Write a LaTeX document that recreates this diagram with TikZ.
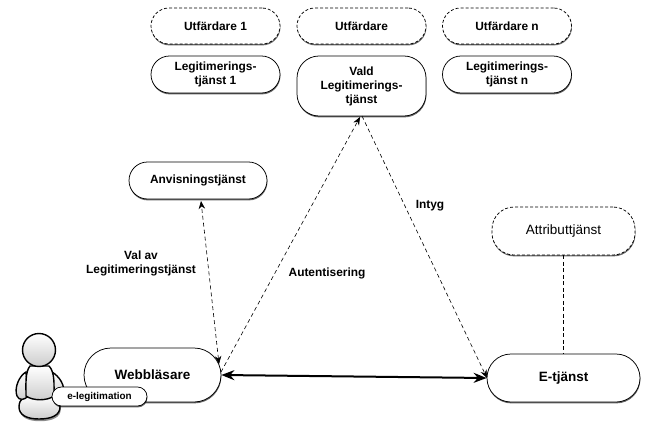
\documentclass[tikz,border=0pt]{standalone}
\usepackage{fontspec}
\setmainfont{Liberation Sans}
\usetikzlibrary{shadows,arrows.meta,calc}
\tikzset{
  x=1pt,y=-1pt,
  pill/.style={draw=black,line width=0.75pt,fill=white,rounded corners=#1,
    align=center,inner sep=0pt,font=\bfseries\fontsize{11.9}{14}\selectfont,
    drop shadow={shadow xshift=0.4pt,shadow yshift=-1.4pt,opacity=.6,fill=black}},
  pill/.default=18.5pt,
  dashpill/.style={pill=#1,dash pattern=on 3pt off 2pt},
  dashpill/.default=18pt,
  conn/.style={dash pattern=on 4pt off 3pt,line width=0.6pt,-{Stealth[length=8pt,width=6.5pt]}},
  bothconn/.style={dash pattern=on 4pt off 3pt,line width=0.6pt,{Stealth[length=8pt,width=6.5pt]}-{Stealth[length=8pt,width=6.5pt]}},
  plainconn/.style={dash pattern=on 4pt off 2.5pt,line width=0.8pt},
  thick arrow/.style={line width=2pt,{Stealth[length=13pt,width=10pt]}-{Stealth[length=13pt,width=10pt]}},
  lbl/.style={font=\bfseries\fontsize{11.9}{14}\selectfont,align=center,inner sep=0pt},
  body/.style={draw=black,line width=1.4pt,top color=white,bottom color=black!20},
  lobe/.style={body,drop shadow={shadow xshift=0.8pt,shadow yshift=-2.2pt,opacity=.45,fill=black}},
}
\begin{document}
\begin{tikzpicture}
\useasboundingbox (0,0) rectangle (666,425);
\node[dashpill,minimum width=129pt,minimum height=36pt] (u1) at (215.5,26) {Utfärdare 1};
\node[dashpill,minimum width=129pt,minimum height=36pt] (u) at (361.5,26) {Utfärdare};
\node[dashpill,minimum width=129pt,minimum height=36pt] (un) at (507,26) {Utfärdare n};
\node[pill,minimum width=129pt,minimum height=37pt] (l1) at (215.5,74.5) {Legitimerings-\\tjänst 1};
\node[pill=22pt,minimum width=129pt,minimum height=60pt] (v) at (361.5,86) {Vald\\Legitimerings-\\tjänst};
\node[pill,minimum width=129pt,minimum height=37pt] (ln) at (507,74.5) {Legitimerings-\\tjänst n};
\node[pill,minimum width=138pt,minimum height=37pt] (a) at (198,180.5) {Anvisningstjänst};
\node[dashpill=22pt,minimum width=143pt,minimum height=48pt,font=\fontsize{13.5}{16}\selectfont] (at) at (563.5,231) {Attributtjänst};
\node[pill=24pt,minimum width=153pt,minimum height=48pt,font=\bfseries\fontsize{13.5}{16}\selectfont] (e) at (563.5,378) {E-tjänst};
\node[pill=27pt,minimum width=137pt,minimum height=54pt,font=\bfseries\fontsize{13.5}{16}\selectfont] (w) at (152.5,375) {Webbläsare};
% person
\draw[lobe] (19,407) .. controls (19,398) and (25,396) .. (39,396) .. controls (53,396) and (60,398) .. (60,407)
  .. controls (60,415) and (52,419) .. (39,419) .. controls (27,419) and (19,415) .. (19,407) -- cycle;
\draw[body] (26,372) .. controls (19,376) and (14,388) .. (17,396) .. controls (19,401) and (25,400) .. (28,396) -- cycle;
\draw[body] (52,372) .. controls (59,376) and (66,386) .. (63,394) .. controls (61,398) and (56,398) .. (52,396) -- cycle;
\draw[body] (30,366) .. controls (25,372) and (26,385) .. (26,396) .. controls (33,401) and (47,401) .. (54,396)
  .. controls (54,385) and (55,372) .. (49,366) -- cycle;
\draw[body] (39,350) circle[radius=16.5];
\node[pill=9.5pt,minimum width=95pt,minimum height=19pt,font=\bfseries\fontsize{9.9}{11}\selectfont] (el) at (99.5,396.5) {e-legitimation};
% connectors
\coordinate (wtop) at (219,364);
\coordinate (atip) at (201,201);
\coordinate (vtip) at (360,117);
\coordinate (vout) at (362,116);
\coordinate (etip) at (487,378);
\coordinate (wout) at (221,372);
\draw[bothconn] (wtop) -- (atip);
\draw[conn] (wout) -- (vtip);
\draw[conn] (vout) -- (etip);
\draw[plainconn] (at.south) -- (e.north);
\draw[thick arrow] (w.east) -- (e.west);
% labels
\node[lbl] (lv) at (141,263) {Val av\\Legitimeringstjänst};
\node[lbl] (la) at (327,273) {Autentisering};
\node[lbl] (li) at (430,206) {Intyg};
\end{tikzpicture}
\end{document}
